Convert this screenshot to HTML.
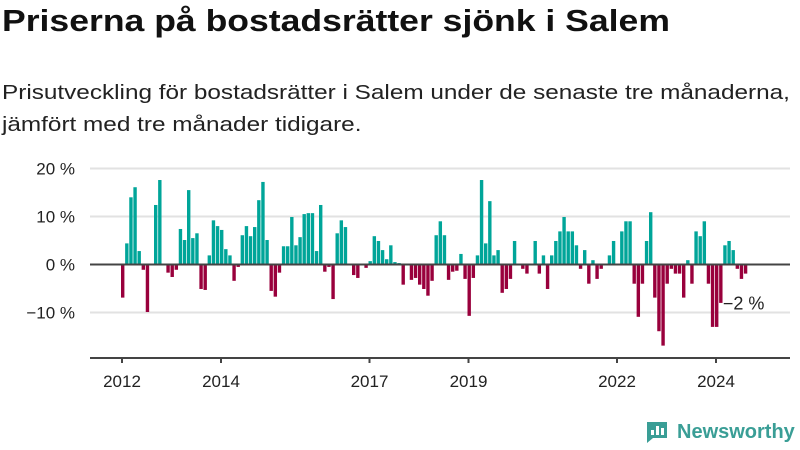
<!DOCTYPE html>
<html><head><meta charset="utf-8"><style>
body{margin:0;width:800px;height:450px;background:#fff;overflow:hidden;font-family:"Liberation Sans",sans-serif;color:#111}
#title{position:absolute;left:2px;top:3px;font-size:31px;font-weight:bold;margin:0;white-space:nowrap;transform:scaleX(1.147);transform-origin:0 0}
#sub{position:absolute;left:2px;top:77px;font-size:20.5px;line-height:32px;color:#222;white-space:nowrap;transform:scaleX(1.186);transform-origin:0 0}
svg{position:absolute;left:0;top:0}
</style></head><body>
<h1 id="title">Priserna på bostadsrätter sjönk i Salem</h1>
<div id="sub">Prisutveckling för bostadsrätter i Salem under de senaste tre månaderna,<br>jämfört med tre månader tidigare.</div>
<svg id="chart" width="800" height="450"></svg>
<script>
const startYear = 2012;
const values = [-6.9,4.4,14.0,16.1,2.8,-1.1,-9.9,0,12.4,17.6,0,-1.7,-2.6,-1.1,7.4,5.1,15.5,5.5,6.5,-5.1,-5.3,1.9,9.2,8.0,7.2,3.2,1.9,-3.4,-0.5,6.1,8.0,5.9,7.8,13.4,17.2,5.1,
-5.5,-6.7,-1.7,3.8,3.8,9.9,4.0,5.7,10.5,10.7,10.7,2.8,12.4,-1.5,-0.5,-7.2,6.5,9.2,7.8,0,-2.2,-2.8,0,-0.7,0.7,5.9,4.9,3.0,1.1,4.0,0.5,0.3,-4.2,0,-3.2,-2.8,-4.2,-5.1,-6.5,-3.4,6.1,9.0,
6.1,-3.2,-1.5,-1.3,2.2,-3.0,-10.7,-2.8,1.9,17.6,4.4,13.2,1.9,3.0,-5.9,-5.1,-3.0,4.9,0,-0.9,-1.9,0,4.9,-1.9,1.9,-5.1,1.9,4.9,6.9,9.9,6.9,6.9,4.0,-0.9,3.0,-4.0,0.9,-3.0,-0.9,0,1.9,
4.9,0,6.9,9.0,9.0,-4.0,-10.9,-4.0,4.9,10.9,-6.9,-13.9,-16.9,-4.0,-0.9,-1.9,-1.9,-6.9,0.9,-4.0,6.9,5.9,9.0,-4.0,-13.0,-13.0,-8.0,4.0,4.9,3.0,-0.9,-3.0,-1.9];
const yTicks = [20,10,0,-10];
const yTickLabels = ["20 %","10 %","0 %","−10 %"];
const xTicks = [2012,2014,2017,2019,2022,2024];
const lastLabel = "−2 %";

const svg = document.getElementById('chart');
const NS = 'http://www.w3.org/2000/svg';
const x = t => 121 + (t - startYear) * 49.5;
const y = v => 264.5 - v * 4.8;
function mk(tag, attrs){const e=document.createElementNS(NS,tag);for(const k in attrs)e.setAttribute(k,attrs[k]);svg.appendChild(e);return e;}

yTicks.forEach((v,i)=>{
  if(v!==0){const g=mk('line',{x1:90,x2:790,y1:y(v),y2:y(v),stroke:'#e2e2e2','stroke-width':2});
  
  }
  const t=mk('text',{x:75,y:y(v)+6,'text-anchor':'end','font-size':17,fill:'#222','font-family':'Liberation Sans, sans-serif'});
  t.textContent=yTickLabels[i];
  
  
});
values.forEach((v,i)=>{
  const t=startYear+i/12;
  const r=mk('rect',{x:x(t),width:3.4,y:Math.min(y(v),y(0)),height:Math.abs(y(v)-y(0)),fill:v>=0?'#00a599':'#99003c'});
  
  
});
const z=mk('line',{x1:90,x2:790,y1:y(0),y2:y(0),stroke:'#444','stroke-width':2});


const ax=mk('line',{x1:90,x2:790,y1:358,y2:358,stroke:'#444','stroke-width':2});


xTicks.forEach(yr=>{
  const tk=mk('line',{x1:x(yr)+1,x2:x(yr)+1,y1:358,y2:363,stroke:'#444','stroke-width':2});
  
  
  const t=mk('text',{x:x(yr)+1,y:387,'text-anchor':'middle','font-size':17,fill:'#222','font-family':'Liberation Sans, sans-serif'});
  t.textContent=yr;
  
  
});
const li=values.length-1;
const lb=mk('text',{x:x(startYear+li/12)-21,y:y(values[li])+36,'font-size':18,fill:'#222','font-family':'Liberation Sans, sans-serif'});
lb.textContent=lastLabel;


</script>
<div style="position:absolute;left:645px;top:420px;display:flex;align-items:center">
<svg width="24" height="24" style="position:static" viewBox="0 0 24 24"><path d="M2 2h20v16H8l-6 5z" fill="#3a9e96"/><rect x="6" y="10" width="3" height="5" fill="#fff"/><rect x="11" y="6" width="3" height="9" fill="#fff"/><rect x="16" y="8" width="3" height="7" fill="#fff"/></svg>
<span style="font-size:20px;font-weight:bold;color:#3a9e96;margin-left:8px">Newsworthy</span></div>
</body></html>
